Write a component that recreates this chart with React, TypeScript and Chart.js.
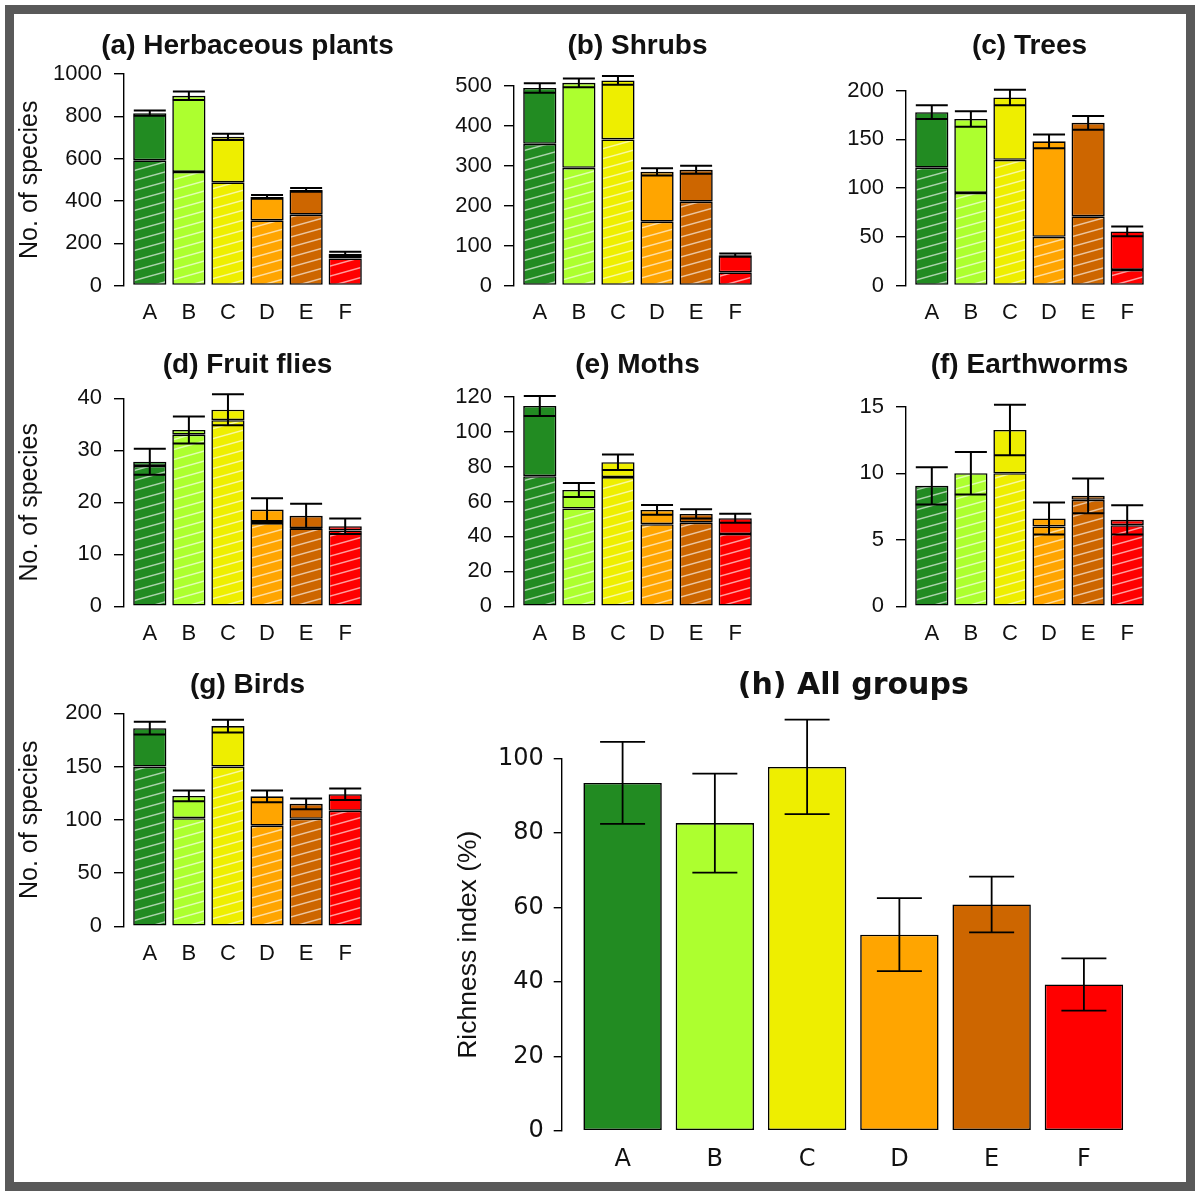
import React, { useEffect, useRef } from "react";
import { Chart, registerables } from "chart.js";

Chart.register(...registerables);

// ---------- data ----------
const categories = ["A", "B", "C", "D", "E", "F"];
const barColors = ["#228B22", "#ADFF2F", "#EEEE00", "#FFA500", "#CD6600", "#FF0000"];

const herbTotal = [815, 897, 703, 419, 452, 150];
const herbHatched = [592, 537, 488, 308, 335, 128];
const herbErr = [12, 20, 15, 9, 9, 10];
const herbTicks = [0, 200, 400, 600, 800, 1000];

const shrubTotal = [495, 508, 514, 285, 290, 76];
const shrubHatched = [355, 295, 366, 160, 210, 33];
const shrubErr = [12, 11, 11, 9, 10, 4];
const shrubTicks = [0, 100, 200, 300, 400, 500];

const treeTotal = [178, 171, 193, 148, 167, 55.5];
const treeHatched = [121, 95, 129, 50, 71, 16];
const treeErr = [7, 8, 8, 7, 7, 5];
const treeTicks = [0, 50, 100, 150, 200];

const flyTotal = [27.8, 33.9, 37.8, 18.6, 17.4, 15.4];
const flyHatched = [27.0, 33.0, 35.8, 16.0, 15.0, 14.6];
const flyErr = [2.5, 2.6, 3.0, 2.2, 2.3, 1.5];
const flyTicks = [0, 10, 20, 30, 40];

const mothTotal = [114.7, 66.6, 82.5, 55.2, 52.9, 50.4];
const mothHatched = [74.5, 56, 74, 47, 47.9, 41.4];
const mothErr = [5.7, 4.0, 4.4, 2.8, 2.7, 2.6];
const mothTicks = [0, 20, 40, 60, 80, 100, 120];

const wormTotal = [9.05, 10.0, 13.25, 6.6, 8.3, 6.5];
const wormHatched = [9.05, 10.0, 10.0, 6.0, 8.0, 6.1];
const wormErr = [1.4, 1.6, 1.9, 1.2, 1.3, 1.1];
const wormTicks = [0, 5, 10, 15];

const birdTotal = [186, 122.4, 188, 122, 115, 124];
const birdHatched = [150, 101.5, 150, 94.5, 101, 108.5];
const birdErr = [6, 5, 6, 5.5, 5, 5.5];
const birdTicks = [0, 50, 100, 150, 200];

const allMean = [93.5, 82.7, 97.8, 52.7, 60.8, 39.3];
const allErr = [11, 13.3, 12.7, 9.8, 7.5, 7];
const allTicks = [0, 20, 40, 60, 80, 100];

// ---------- layout / style ----------
const SANS = "'Liberation Sans', Arial, Helvetica, sans-serif";
const WIDE = "'DejaVu Sans', 'Liberation Sans', sans-serif";

type Box = { left: number; top: number; width: number; height: number };
type Area = { left: number; right: number; top: number; bottom: number };
type PanelSpec = {
  id: string;
  title: string;
  yTitle?: string;
  total: number[];
  hatched?: number[];
  err: number[];
  ticks: number[];
  canvas: Box;
  area: Area;
  titleY: number;
  yTitleX?: number;
  big?: boolean;
};

const panels: PanelSpec[] = [
  { id: "a", title: "(a) Herbaceous plants", yTitle: "No. of species", total: herbTotal, hatched: herbHatched, err: herbErr, ticks: herbTicks,
    canvas: { left: 10, top: 15, width: 385, height: 320 }, area: { left: 124, right: 371, top: 74, bottom: 285.5 }, titleY: 46, yTitleX: 30 },
  { id: "b", title: "(b) Shrubs", total: shrubTotal, hatched: shrubHatched, err: shrubErr, ticks: shrubTicks,
    canvas: { left: 400, top: 15, width: 385, height: 320 }, area: { left: 514, right: 761, top: 86, bottom: 285.5 }, titleY: 46 },
  { id: "c", title: "(c) Trees", total: treeTotal, hatched: treeHatched, err: treeErr, ticks: treeTicks,
    canvas: { left: 790, top: 15, width: 390, height: 320 }, area: { left: 906, right: 1153, top: 90.7, bottom: 285.5 }, titleY: 46 },
  { id: "d", title: "(d) Fruit flies", yTitle: "No. of species", total: flyTotal, hatched: flyHatched, err: flyErr, ticks: flyTicks,
    canvas: { left: 10, top: 335, width: 385, height: 318 }, area: { left: 124, right: 371, top: 398.3, bottom: 606.3 }, titleY: 365, yTitleX: 30 },
  { id: "e", title: "(e) Moths", total: mothTotal, hatched: mothHatched, err: mothErr, ticks: mothTicks,
    canvas: { left: 400, top: 335, width: 385, height: 318 }, area: { left: 514, right: 761, top: 396.7, bottom: 606.3 }, titleY: 365 },
  { id: "f", title: "(f) Earthworms", total: wormTotal, hatched: wormHatched, err: wormErr, ticks: wormTicks,
    canvas: { left: 790, top: 335, width: 390, height: 318 }, area: { left: 906, right: 1153, top: 406.7, bottom: 606.3 }, titleY: 365 },
  { id: "g", title: "(g) Birds", yTitle: "No. of species", total: birdTotal, hatched: birdHatched, err: birdErr, ticks: birdTicks,
    canvas: { left: 10, top: 655, width: 385, height: 318 }, area: { left: 124, right: 371, top: 713.3, bottom: 926.3 }, titleY: 685, yTitleX: 30 },
  { id: "h", title: "(h) All groups", yTitle: "Richness index (%)", total: allMean, err: allErr, ticks: allTicks,
    canvas: { left: 440, top: 650, width: 740, height: 530 }, area: { left: 561.7, right: 1144.8, top: 758.7, bottom: 1130.7 }, titleY: 686, yTitleX: 469, big: true },
];

function makeHatch(color: string): CanvasPattern | string {
  const w = 36, h = 10;
  const c = document.createElement("canvas");
  c.width = w;
  c.height = h;
  const g = c.getContext("2d");
  if (!g) return color;
  g.fillStyle = color;
  g.fillRect(0, 0, w, h);
  g.strokeStyle = "rgba(255,255,255,0.62)";
  g.lineWidth = 1.5;
  for (const k of [-1, 0, 1]) {
    g.beginPath();
    g.moveTo(0, h * (1 + k));
    g.lineTo(w, h * k);
    g.stroke();
  }
  return g.createPattern(c, "repeat") ?? color;
}

function errorBarPlugin(totals: number[], errs: number[], cap: number, lw: number) {
  return {
    id: "errorBars",
    afterDatasetsDraw(chart: any) {
      const { ctx } = chart;
      const x = chart.scales.x;
      const y = chart.scales.y;
      ctx.save();
      ctx.strokeStyle = "#000";
      ctx.lineWidth = lw;
      totals.forEach((t, i) => {
        const px = x.getPixelForValue(i);
        const top = y.getPixelForValue(t + errs[i]);
        const bot = y.getPixelForValue(t - errs[i]);
        ctx.beginPath();
        ctx.moveTo(px, top);
        ctx.lineTo(px, bot);
        ctx.moveTo(px - cap, top);
        ctx.lineTo(px + cap, top);
        ctx.moveTo(px - cap, bot);
        ctx.lineTo(px + cap, bot);
        ctx.stroke();
      });
      ctx.restore();
    },
  };
}

function panelTitlePlugin(text: string, font: string, y: number) {
  return {
    id: "panelTitle",
    afterDraw(chart: any) {
      const { ctx, chartArea } = chart;
      ctx.save();
      ctx.font = font;
      ctx.fillStyle = "#111";
      ctx.textAlign = "center";
      ctx.textBaseline = "middle";
      ctx.fillText(text, (chartArea.left + chartArea.right) / 2, y);
      ctx.restore();
    },
  };
}

function Panel({ spec }: { spec: PanelSpec }) {
  const ref = useRef<HTMLCanvasElement>(null);
  useEffect(() => {
    const canvas = ref.current;
    if (!canvas) return;
    const s = spec;
    const c = s.canvas;
    const big = !!s.big;

    const tickFont = big ? { family: WIDE, size: 24 } : { family: SANS, size: 22 };
    const titleFont = big ? `bold 30px ${WIDE}` : `bold 28px ${SANS}`;
    const yTitleSize = big ? 26.5 : 25;
    const tickLen = big ? 8 : 10;
    const yTickPad = big ? 10 : 12;

    const yWidth = s.area.left - c.left;
    const padRight = c.left + c.width - s.area.right;
    const xHeight = 40;
    const padBottom = c.top + c.height - s.area.bottom - xHeight;
    const padTop = s.area.top - c.top;
    const xTickPad = 6.5;
    const yTitlePad = s.yTitleX !== undefined ? s.yTitleX - c.left - (yTitleSize * 1.2) / 2 : 0;

    const common = { borderColor: "#000", borderWidth: 1.6, borderSkipped: false as const, clip: false as any };
    const datasets: any[] = [];
    if (s.hatched) {
      const hatched = s.hatched;
      datasets.push({
        ...common,
        data: hatched.map((v, i) => ({ x: i, y: v })),
        backgroundColor: barColors.map((col) => makeHatch(col)),
      });
      datasets.push({
        ...common,
        data: s.total.map((v, i) => ({ x: i, y: v - hatched[i] })),
        backgroundColor: barColors,
      });
    } else {
      datasets.push({
        ...common,
        data: s.total.map((v, i) => ({ x: i, y: v })),
        backgroundColor: barColors,
      });
    }

    const yTicks = s.ticks;
    const chart = new Chart(canvas, {
      type: "bar",
      data: { datasets },
      options: {
        responsive: false,
        animation: false,
        devicePixelRatio: 1,
        layout: { padding: { left: 0, right: padRight, top: padTop, bottom: padBottom } },
        datasets: { bar: { categoryPercentage: 1, barPercentage: 0.85 } },
        plugins: {
          legend: { display: false },
          tooltip: { enabled: false },
          title: { display: false },
        },
        scales: {
          x: {
            type: "linear",
            min: -0.66,
            max: 5.66,
            stacked: true,
            offset: false,
            afterBuildTicks: (ax: any) => {
              ax.ticks = categories.map((_, i) => ({ value: i }));
            },
            afterFit: (ax: any) => {
              ax.height = xHeight;
            },
            grid: { display: false, offset: false },
            border: { display: false },
            ticks: {
              autoSkip: false,
              maxRotation: 0,
              padding: xTickPad,
              color: "#111",
              font: tickFont,
              callback: (v: any) => categories[Math.round(Number(v))],
            },
          },
          y: {
            type: "linear",
            min: yTicks[0],
            max: yTicks[yTicks.length - 1],
            stacked: true,
            afterBuildTicks: (ax: any) => {
              ax.ticks = yTicks.map((v) => ({ value: v }));
            },
            afterFit: (ax: any) => {
              ax.width = yWidth;
            },
            grid: { drawOnChartArea: false, drawTicks: true, tickLength: tickLen, color: "#000", lineWidth: 1.4 },
            border: { display: true, color: "#000", width: 1.4 },
            ticks: {
              autoSkip: false,
              padding: yTickPad,
              color: "#111",
              font: tickFont,
              callback: (v: any) => String(v),
            },
            title: s.yTitle
              ? {
                  display: true,
                  text: s.yTitle,
                  color: "#111",
                  font: { family: SANS, size: yTitleSize },
                  padding: { top: yTitlePad, bottom: 0 },
                }
              : { display: false },
          },
        },
      } as any,
      plugins: [
        errorBarPlugin(s.total, s.err, big ? 22.5 : 16, big ? 1.8 : 2),
        panelTitlePlugin(s.title, titleFont, s.titleY - c.top),
      ],
    });
    return () => chart.destroy();
  }, [spec]);

  const c = spec.canvas;
  return (
    <canvas
      ref={ref}
      width={c.width}
      height={c.height}
      style={{ position: "absolute", left: c.left, top: c.top, width: c.width, height: c.height }}
    />
  );
}

export default function App() {
  return (
    <div style={{ position: "absolute", left: 0, top: 0, width: 1197, height: 1191, background: "#fff", overflow: "hidden" }}>
      <div
        style={{
          position: "absolute",
          left: 5,
          top: 5,
          width: 1190,
          height: 1186,
          border: "9px solid #595959",
          boxSizing: "border-box",
        }}
      />
      {panels.map((p) => (
        <Panel key={p.id} spec={p} />
      ))}
    </div>
  );
}
